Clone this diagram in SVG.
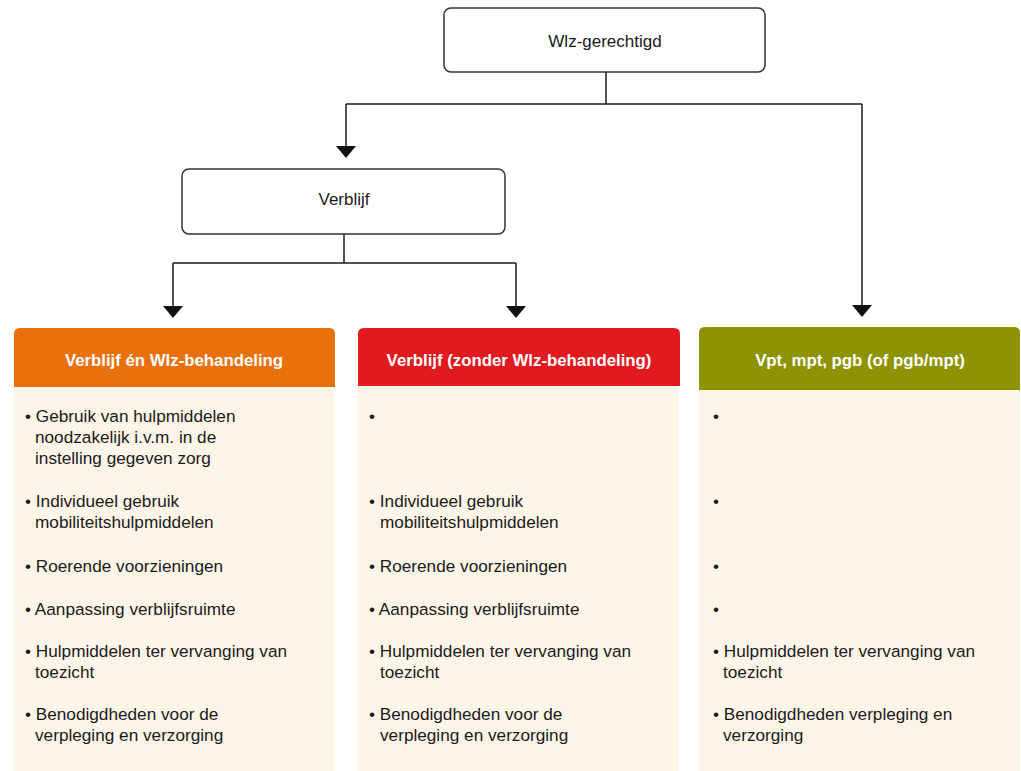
<svg xmlns="http://www.w3.org/2000/svg" width="1021" height="771" viewBox="0 0 1021 771">
<style>
.box{fill:#fff;stroke:#333;stroke-width:1.5}
.conn{fill:none;stroke:#1a1a1a;stroke-width:1.5}
.lbl{font-family:"Liberation Sans",Arial,sans-serif;font-size:17px;fill:#1a1a1a;text-anchor:middle}
.hdr{font-family:"Liberation Sans",Arial,sans-serif;font-size:16.8px;font-weight:bold;fill:#fff;text-anchor:middle}
.txt{font-family:"Liberation Sans",Arial,sans-serif;font-size:17.2px;fill:#1a1a1a}
.body{fill:#FEF5E9}
</style>
<defs>
<marker id="arr" viewBox="0 0 12 20" refX="0" refY="10" markerWidth="12" markerHeight="20" markerUnits="userSpaceOnUse" orient="auto">
<path d="M0,0 L12,10 L0,20 z" fill="#111"/>
</marker>
</defs>
<g id="connectors">
<path class="conn" d="M606,72 V104"/>
<path class="conn" d="M346,104 H862"/>
<path class="conn" d="M346,104 V146" marker-end="url(#arr)"/>
<path class="conn" d="M862,104 V305" marker-end="url(#arr)"/>
<path class="conn" d="M344,234 V263"/>
<path class="conn" d="M173,263 H516"/>
<path class="conn" d="M173,263 V306" marker-end="url(#arr)"/>
<path class="conn" d="M516,263 V306" marker-end="url(#arr)"/>
</g>
<g id="wlz">
<rect class="box" x="444" y="8" width="321" height="64" rx="7"/>
<text class="lbl" x="605" y="47">Wlz-gerechtigd</text>
</g>
<g id="verblijf">
<rect class="box" x="182" y="169" width="323" height="65" rx="7"/>
<text class="lbl" x="344" y="205">Verblijf</text>
</g>
<g id="col1">
<path d="M14,334 Q14,328 20,328 H329 Q335,328 335,334 V387 H14 Z" fill="#E8710E"/>
<rect class="body" x="14" y="387" width="320" height="384"/>
<text class="hdr" x="174" y="366">Verblijf én Wlz-behandeling</text>
<text class="txt" x="25" y="422">• Gebruik van hulpmiddelen</text>
<text class="txt" x="35" y="443">noodzakelijk i.v.m. in de</text>
<text class="txt" x="35" y="464">instelling gegeven zorg</text>
<text class="txt" x="25" y="507">• Individueel gebruik</text>
<text class="txt" x="35" y="528">mobiliteitshulpmiddelen</text>
<text class="txt" x="25" y="572">• Roerende voorzieningen</text>
<text class="txt" x="25" y="615">• Aanpassing verblijfsruimte</text>
<text class="txt" x="25" y="657">• Hulpmiddelen ter vervanging van</text>
<text class="txt" x="35" y="678">toezicht</text>
<text class="txt" x="25" y="720">• Benodigdheden voor de</text>
<text class="txt" x="35" y="741">verpleging en verzorging</text>
</g>
<g id="col2">
<path d="M358,334 Q358,328 364,328 H674 Q680,328 680,334 V386 H358 Z" fill="#E2191E"/>
<rect class="body" x="358" y="386" width="321" height="385"/>
<text class="hdr" x="519" y="366">Verblijf (zonder Wlz-behandeling)</text>
<text class="txt" x="369" y="422">•</text>
<text class="txt" x="369" y="507">• Individueel gebruik</text>
<text class="txt" x="380" y="528">mobiliteitshulpmiddelen</text>
<text class="txt" x="369" y="572">• Roerende voorzieningen</text>
<text class="txt" x="369" y="615">• Aanpassing verblijfsruimte</text>
<text class="txt" x="369" y="657">• Hulpmiddelen ter vervanging van</text>
<text class="txt" x="380" y="678">toezicht</text>
<text class="txt" x="369" y="720">• Benodigdheden voor de</text>
<text class="txt" x="380" y="741">verpleging en verzorging</text>
</g>
<g id="col3">
<path d="M699,333 Q699,327 705,327 H1014 Q1020,327 1020,333 V390 H699 Z" fill="#8E9301"/>
<rect class="body" x="699" y="390" width="321" height="381"/>
<text class="hdr" x="860" y="366">Vpt, mpt, pgb (of pgb/mpt)</text>
<text class="txt" x="713" y="422">•</text>
<text class="txt" x="713" y="507">•</text>
<text class="txt" x="713" y="572">•</text>
<text class="txt" x="713" y="615">•</text>
<text class="txt" x="713" y="657">• Hulpmiddelen ter vervanging van</text>
<text class="txt" x="723" y="678">toezicht</text>
<text class="txt" x="713" y="720">• Benodigdheden verpleging en</text>
<text class="txt" x="723" y="741">verzorging</text>
</g>
</svg>
